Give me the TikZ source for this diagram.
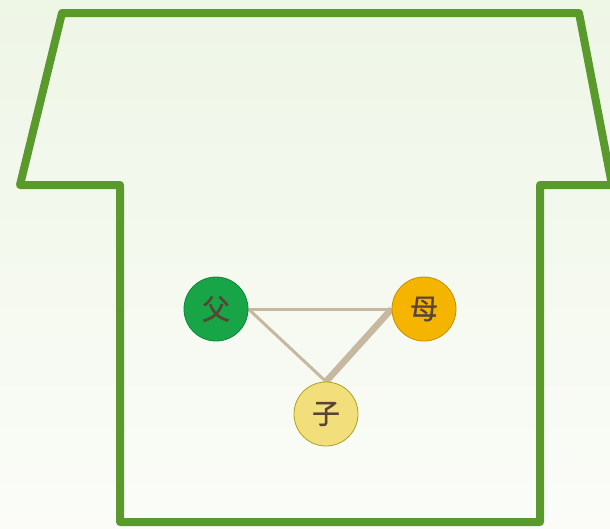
\documentclass[tikz,border=0pt]{standalone}
\usepackage{fontspec}
\newfontfamily\cjk{Noto Sans CJK SC}[FakeBold=1.2]
\usetikzlibrary{backgrounds}
\pgfdeclarelayer{canvas}
\pgfsetlayers{canvas,background,main}
\definecolor{housegreen}{HTML}{5A9A2C}
\definecolor{bgtop}{HTML}{EEF6E6}
\definecolor{bgbot}{HTML}{FBFCF8}
\definecolor{fathergreen}{HTML}{18A548}
\definecolor{motherorange}{HTML}{F4B400}
\definecolor{childyellow}{HTML}{F3DE7C}
\definecolor{linktan}{HTML}{C7B8A2}
\definecolor{txt}{HTML}{574633}
\tikzset{
  person/.style={circle, minimum size=64pt, inner sep=0pt, font=\cjk\fontsize{28}{28}\selectfont, text=txt, line width=0.8pt},
  thinlink/.style={draw=linktan, line width=3pt},
  thicklink/.style={draw=linktan, line width=6.5pt},
  house/.style={draw=housegreen, line width=8pt, line join=round}
}
\begin{document}
\begin{tikzpicture}[x=1pt,y=-1pt]
\useasboundingbox (0,0) rectangle (610,528);
\begin{pgfonlayer}{canvas}
\shade[top color=bgtop, bottom color=bgbot] (0,0) rectangle (610,528);
\draw[house] (62,13) -- (579,13) -- (612,185) -- (540,185) -- (540,522) -- (120,522) -- (120,185) -- (20,185) -- cycle;
\end{pgfonlayer}
\node[person, fill=fathergreen, draw=fathergreen!80!black] (f) at (216,309) {父};
\node[person, fill=motherorange, draw=motherorange!80!black] (m) at (424,309) {母};
\node[person, fill=childyellow, draw=olive!70!childyellow] (c) at (326,414) {子};
\begin{scope}[on background layer]
\draw[thinlink] (f.east) -- (m.west);
\draw[thinlink] (f.east) -- (c.north);
\draw[thicklink] (m.west) -- (c.north);
\end{scope}
\end{tikzpicture}
\end{document}
